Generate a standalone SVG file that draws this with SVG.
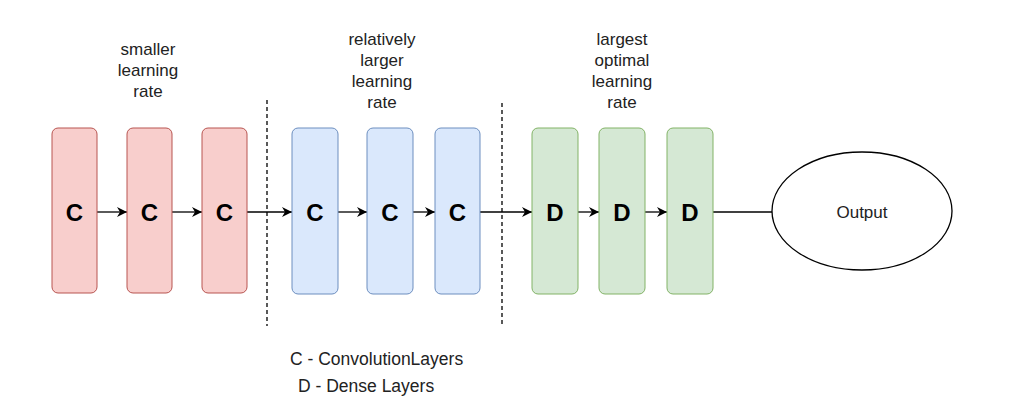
<svg xmlns="http://www.w3.org/2000/svg" width="1016" height="417" viewBox="0 0 1016 417">
<style>
.r{fill:#f8cecc;stroke:#b85450;stroke-width:1}
.b{fill:#dae8fc;stroke:#6c8ebf;stroke-width:1}
.g{fill:#d5e8d4;stroke:#82b366;stroke-width:1}
.L{font-family:"Liberation Sans",Arial,sans-serif;font-weight:bold;font-size:24px;text-anchor:middle;fill:#000}
.t{font-family:"Liberation Sans",Arial,sans-serif;font-size:17px;text-anchor:middle;fill:#222}
.lg{font-family:"Liberation Sans",Arial,sans-serif;font-size:17.5px;fill:#222}
.c{stroke:#000;stroke-width:1.3;fill:none}
.d{stroke:#000;stroke-width:1.3;stroke-dasharray:4 3;fill:none}
</style>
<defs>
<marker id="ah" viewBox="0 0 10 10" refX="10" refY="5" markerWidth="10" markerHeight="10" markerUnits="userSpaceOnUse" orient="auto">
<path d="M0,0 L10,5 L0,10 L3,5 Z" fill="#000"/>
</marker>
</defs>
<rect width="1016" height="417" fill="#fff"/>
<g id="dividers">
<line class="d" x1="267" y1="100" x2="267" y2="326"/>
<line class="d" x1="502" y1="103" x2="502" y2="326"/>
</g>
<g id="labels">
<text class="t"><tspan x="148" y="55">smaller</tspan><tspan x="148" y="76">learning</tspan><tspan x="148" y="97">rate</tspan></text>
<text class="t"><tspan x="382" y="45">relatively</tspan><tspan x="382" y="66">larger</tspan><tspan x="382" y="87">learning</tspan><tspan x="382" y="108">rate</tspan></text>
<text class="t"><tspan x="622" y="45">largest</tspan><tspan x="622" y="66">optimal</tspan><tspan x="622" y="87">learning</tspan><tspan x="622" y="108">rate</tspan></text>
</g>
<g id="connectors">
<line class="c" x1="97" y1="212" x2="127" y2="212" marker-end="url(#ah)"/>
<line class="c" x1="172" y1="212" x2="202" y2="212" marker-end="url(#ah)"/>
<line class="c" x1="247" y1="212" x2="292" y2="212" marker-end="url(#ah)"/>
<line class="c" x1="338" y1="212" x2="367" y2="212" marker-end="url(#ah)"/>
<line class="c" x1="413" y1="212" x2="435" y2="212" marker-end="url(#ah)"/>
<line class="c" x1="480" y1="212" x2="532" y2="212" marker-end="url(#ah)"/>
<line class="c" x1="578" y1="212" x2="599" y2="212" marker-end="url(#ah)"/>
<line class="c" x1="645" y1="212" x2="667" y2="212" marker-end="url(#ah)"/>
<line class="c" x1="713" y1="212" x2="772" y2="212"/>
</g>
<g id="c1"><rect class="r" x="52" y="128" width="45" height="165" rx="6"/><text class="L" x="74.5" y="221">C</text></g>
<g id="c2"><rect class="r" x="127" y="128" width="45" height="165" rx="6"/><text class="L" x="149.5" y="221">C</text></g>
<g id="c3"><rect class="r" x="202" y="128" width="45" height="165" rx="6"/><text class="L" x="224.5" y="221">C</text></g>
<g id="c4"><rect class="b" x="292" y="128" width="46" height="166" rx="6"/><text class="L" x="315" y="221">C</text></g>
<g id="c5"><rect class="b" x="367" y="128" width="46" height="166" rx="6"/><text class="L" x="390" y="221">C</text></g>
<g id="c6"><rect class="b" x="435" y="128" width="45" height="166" rx="6"/><text class="L" x="457.5" y="221">C</text></g>
<g id="d1"><rect class="g" x="532" y="128" width="46" height="166" rx="6"/><text class="L" x="555" y="221">D</text></g>
<g id="d2"><rect class="g" x="599" y="128" width="46" height="166" rx="6"/><text class="L" x="622" y="221">D</text></g>
<g id="d3"><rect class="g" x="667" y="128" width="46" height="166" rx="6"/><text class="L" x="690" y="221">D</text></g>
<g id="output"><ellipse cx="862" cy="211" rx="90" ry="59" fill="#fff" stroke="#000" stroke-width="1.3"/><text class="t" x="862" y="218">Output</text></g>
<g id="legend">
<text class="lg" x="290" y="365">C - ConvolutionLayers</text>
<text class="lg" x="298" y="392">D - Dense Layers</text>
</g>
</svg>
